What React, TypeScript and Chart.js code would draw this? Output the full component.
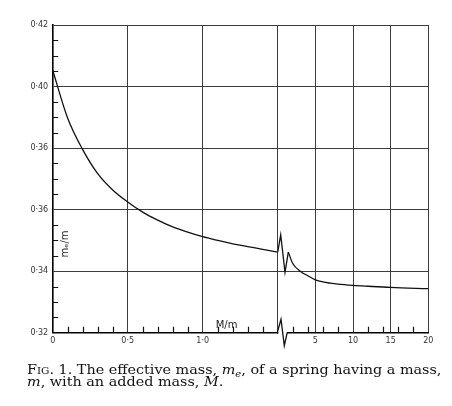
import React, { useEffect, useRef } from "react";
import { Chart, registerables } from "chart.js";

Chart.register(...registerables);

// ---- data ----
const leftMassRatio = [0, 0.1, 0.2, 0.3, 0.4, 0.5, 0.6, 0.7, 0.8, 0.9, 1.0, 1.1, 1.2, 1.3, 1.4, 1.5];
const leftEffMass = [0.4053, 0.3897, 0.3795, 0.3717, 0.3664, 0.3625, 0.3592, 0.3566, 0.3544, 0.3527, 0.3512, 0.35, 0.3489, 0.348, 0.3471, 0.3462];

const breakMassRatio = [0, 0.4, 0.97, 1.41];
const breakEffMass = [0.3462, 0.3518, 0.3396, 0.3462];

const rightMassRatio = [1.41, 2, 3, 4, 5, 6, 7, 8, 10, 12, 15, 20];
const rightEffMass = [0.3462, 0.3425, 0.34, 0.3385, 0.3372, 0.3365, 0.3361, 0.3358, 0.3354, 0.3351, 0.3347, 0.3343];

const yTickValues = [0.32, 0.34, 0.36, 0.38, 0.4, 0.42];
const yTickLabels = ["0·32", "0·34", "0·36", "0·36", "0·40", "0·42"];
const yMinorTicks = [0.325, 0.33, 0.335, 0.345, 0.35, 0.355, 0.365, 0.37, 0.375, 0.385, 0.39, 0.395, 0.405, 0.41, 0.415];

const leftXTickValues = [0, 0.5, 1.0, 1.5];
const leftXTickLabels = ["0", "0·5", "1·0", ""];
const leftXMinorTicks = [0.1, 0.2, 0.3, 0.4, 0.6, 0.7, 0.8, 0.9, 1.1, 1.2, 1.3, 1.4];

const rightXTickValues = [0, 5, 10, 15, 20];
const rightXTickLabels = ["", "5", "10", "15", "20"];
const rightXMinorTicks = [2, 4, 6, 8, 12, 14, 16, 18];

const xTitle = "M/m";
const yTitle = "mₑ/m";

const toPoints = (xs: number[], ys: number[]) => xs.map((x, i) => ({ x, y: ys[i] }));

const INK = "#111";
const GRID = "#3c3c3c";

const decorPlugin = {
  id: "decor",
  afterDatasetsDraw(chart: any) {
    const { ctx, chartArea, scales } = chart;
    const y = scales.y;
    const x1 = scales.x;
    const x2 = scales.x2;
    ctx.save();
    ctx.strokeStyle = INK;
    ctx.lineWidth = 1.2;
    ctx.beginPath();
    yMinorTicks.forEach((v) => {
      const py = Math.round(y.getPixelForValue(v)) + 0.5;
      ctx.moveTo(chartArea.left, py);
      ctx.lineTo(chartArea.left + 5.5, py);
    });
    leftXMinorTicks.forEach((v) => {
      const px = Math.round(x1.getPixelForValue(v)) + 0.5;
      ctx.moveTo(px, chartArea.bottom);
      ctx.lineTo(px, chartArea.bottom - 6);
    });
    rightXMinorTicks.forEach((v) => {
      const px = Math.round(x2.getPixelForValue(v)) + 0.5;
      ctx.moveTo(px, chartArea.bottom);
      ctx.lineTo(px, chartArea.bottom - 6);
    });
    ctx.stroke();

    // axis break symbol
    const bp = x2.left;
    const b = chartArea.bottom;
    ctx.fillStyle = "#fff";
    ctx.fillRect(bp + 0.8, b - 1.6, 8.4, 3.4);
    ctx.beginPath();
    ctx.lineWidth = 1.3;
    ctx.moveTo(bp - 0.5, b);
    ctx.lineTo(bp + 3.3, b - 13.5);
    ctx.lineTo(bp + 6.6, b + 13);
    ctx.lineTo(bp + 9.5, b);
    ctx.stroke();

    // axis titles inside the plot
    ctx.fillStyle = "#222";
    ctx.font = "10px 'DejaVu Sans'";
    ctx.textAlign = "left";
    ctx.textBaseline = "alphabetic";
    ctx.fillText(xTitle, chartArea.left + 163, chartArea.bottom - 4.5);

    ctx.translate(chartArea.left + 15.5, chartArea.top + 219);
    ctx.rotate(-Math.PI / 2);
    ctx.textAlign = "center";
    ctx.fillText(yTitle, 0, 0);
    ctx.restore();
  },
};

export default function App() {
  const ref = useRef<HTMLCanvasElement | null>(null);

  useEffect(() => {
    if (!ref.current) return;
    const tickFont = { family: "'DejaVu Sans'", size: 8 };
    const chart = new Chart(ref.current, {
      type: "line",
      data: {
        datasets: [
          {
            data: toPoints(leftMassRatio, leftEffMass),
            xAxisID: "x",
            yAxisID: "y",
            borderColor: INK,
            borderWidth: 1.3,
            pointRadius: 0,
            cubicInterpolationMode: "monotone",
          },
          {
            data: toPoints(breakMassRatio, breakEffMass),
            xAxisID: "x2",
            yAxisID: "y",
            borderColor: INK,
            borderWidth: 1.3,
            pointRadius: 0,
            tension: 0,
          },
          {
            data: toPoints(rightMassRatio, rightEffMass),
            xAxisID: "x2",
            yAxisID: "y",
            borderColor: INK,
            borderWidth: 1.3,
            pointRadius: 0,
            cubicInterpolationMode: "monotone",
          },
        ],
      },
      options: {
        animation: false,
        responsive: false,
        events: [],
        layout: { padding: { left: 0, top: 25, right: 23.7, bottom: 0 } },
        plugins: {
          legend: { display: false },
          tooltip: { enabled: false },
          title: { display: false },
        },
        scales: {
          x: {
            type: "linear",
            position: "bottom",
            stack: "xs",
            stackWeight: 225,
            min: 0,
            max: 1.5,
            afterBuildTicks: (s: any) => {
              s.ticks = leftXTickValues.map((v) => ({ value: v }));
            },
            afterFit: (s: any) => {
              s.height = 73.3;
            },
            grid: { color: GRID, lineWidth: 1, drawTicks: false },
            border: { color: "#000", width: 1.6 },
            ticks: {
              padding: 3,
              maxRotation: 0,
              autoSkip: false,
              color: "#333",
              font: tickFont,
              callback: (v: any) => leftXTickLabels[leftXTickValues.indexOf(Number(v))] ?? "",
            },
          },
          x2: {
            type: "linear",
            position: "bottom",
            stack: "xs",
            stackWeight: 150.6,
            min: 0,
            max: 20,
            afterBuildTicks: (s: any) => {
              s.ticks = rightXTickValues.map((v) => ({ value: v }));
            },
            afterFit: (s: any) => {
              s.height = 73.3;
            },
            grid: { color: GRID, lineWidth: 1, drawTicks: false },
            border: { color: "#000", width: 1.6 },
            ticks: {
              padding: 3,
              maxRotation: 0,
              autoSkip: false,
              color: "#333",
              font: tickFont,
              callback: (v: any) => rightXTickLabels[rightXTickValues.indexOf(Number(v))] ?? "",
            },
          },
          y: {
            type: "linear",
            position: "left",
            min: 0.32,
            max: 0.42,
            afterBuildTicks: (s: any) => {
              s.ticks = yTickValues.map((v) => ({ value: v }));
            },
            afterFit: (s: any) => {
              s.width = 52.7;
            },
            grid: { color: GRID, lineWidth: 1, drawTicks: false },
            border: { color: "#000", width: 1.6 },
            ticks: {
              padding: 4.5,
              autoSkip: false,
              color: "#333",
              font: tickFont,
              callback: (v: any) => {
                const i = yTickValues.findIndex((t) => Math.abs(t - Number(v)) < 1e-9);
                return i >= 0 ? yTickLabels[i] : "";
              },
            },
          },
        },
      } as any,
      plugins: [decorPlugin],
    });
    return () => chart.destroy();
  }, []);

  return (
    <div style={{ position: "absolute", left: 0, top: 0, width: 452, height: 406, background: "#fff" }}>
      <canvas ref={ref} width={452} height={406} style={{ position: "absolute", left: 0, top: 0 }} />
      <div
        style={{
          position: "absolute",
          left: 27,
          top: 364,
          fontFamily: "'DejaVu Serif', serif",
          fontSize: 12.4,
          lineHeight: "12px",
          color: "#111",
          whiteSpace: "nowrap",
          transform: "scaleX(1.16)",
          transformOrigin: "0 0",
        }}
      >
        <span style={{ fontVariant: "small-caps" }}>Fig.</span> 1. The effective mass,{" "}
        <i>
          m<sub style={{ fontSize: "0.7em", lineHeight: 0 }}>e</sub>
        </i>
        , of a spring having a mass,
        <br />
        <i>m</i>, with an added mass, <i>M</i>.
      </div>
    </div>
  );
}
